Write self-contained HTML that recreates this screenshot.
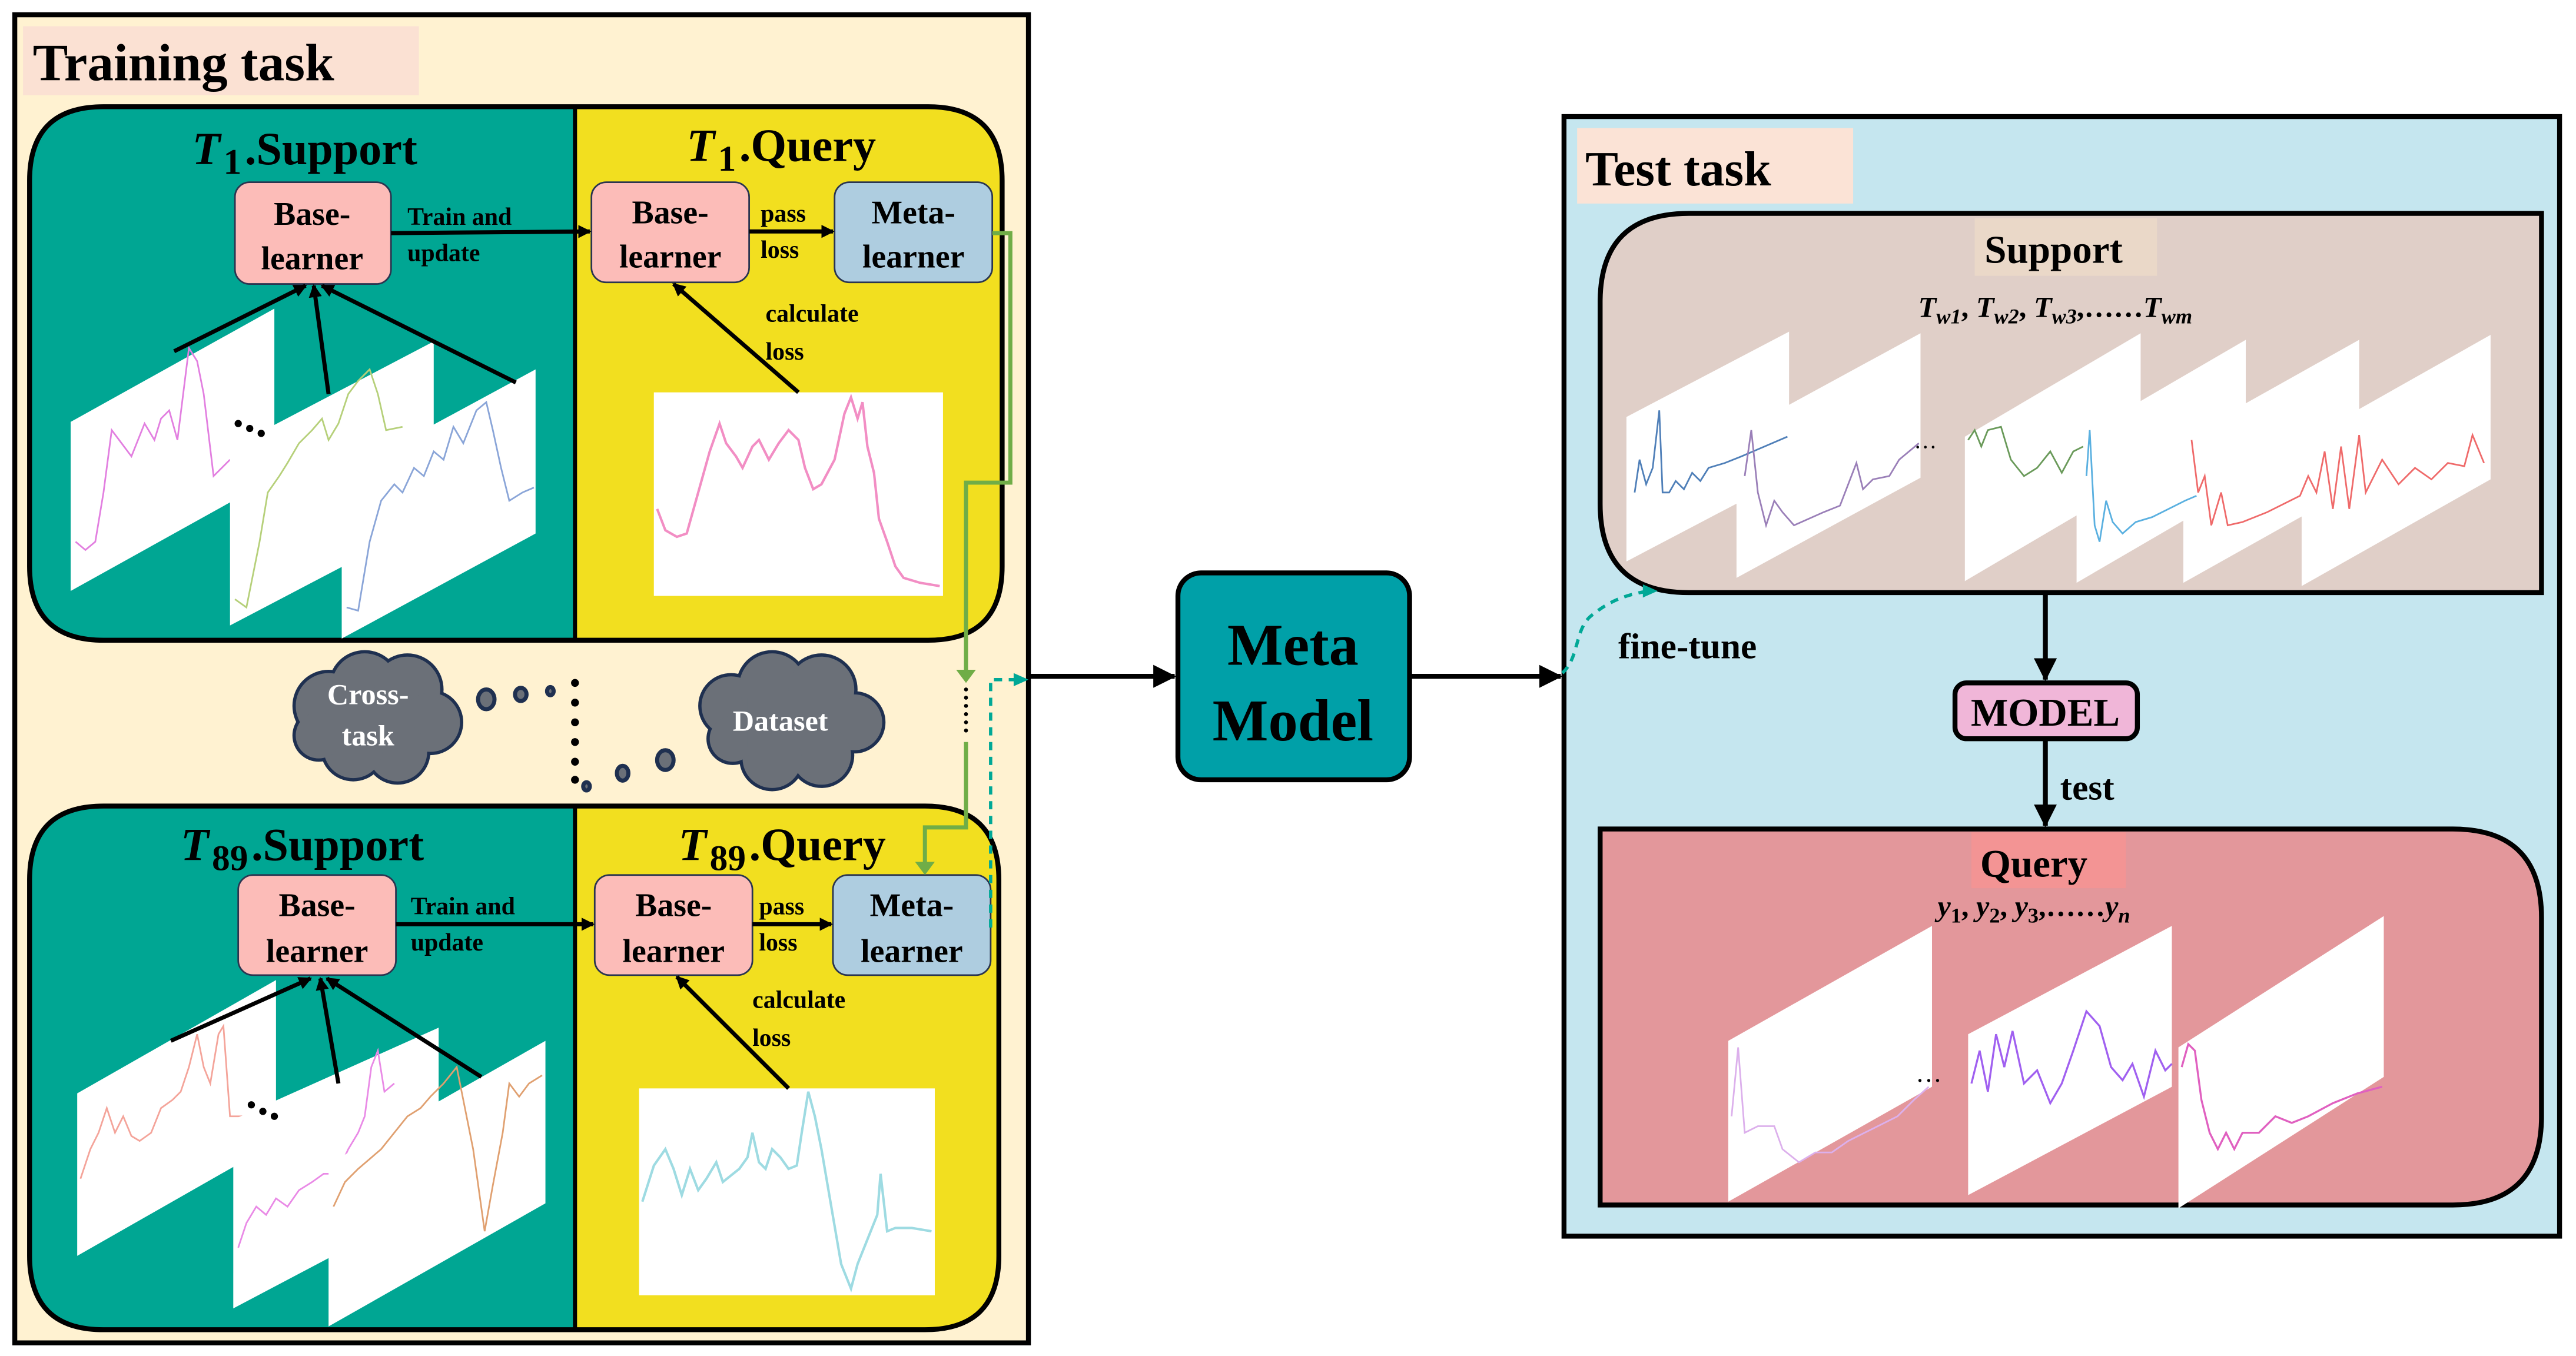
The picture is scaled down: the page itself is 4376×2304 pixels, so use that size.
<!DOCTYPE html>
<html><head><meta charset="utf-8"><style>
html,body{margin:0;padding:0;background:#fff;}
svg{display:block;}
text{font-family:"Liberation Serif",serif;font-weight:bold;fill:#000;}
</style></head><body>
<svg width="4376" height="2304" viewBox="0 0 1568 826" preserveAspectRatio="none" xmlns="http://www.w3.org/2000/svg">
<defs>
<marker id="ah" markerWidth="8" markerHeight="8" refX="7" refY="4" orient="auto" markerUnits="userSpaceOnUse"><path d="M0,0 L8,4 L0,8 z" fill="#000"/></marker>
<marker id="ahb" markerWidth="14" markerHeight="14" refX="13" refY="7" orient="auto" markerUnits="userSpaceOnUse"><path d="M0,0 L14,7 L0,14 z" fill="#000"/></marker>
<marker id="ahg" markerWidth="12" markerHeight="10" refX="6" refY="9" orient="auto-start-reverse" markerUnits="userSpaceOnUse"><path d="M0,0 L12,0 L6,10 z" fill="#70ad47"/></marker>
<marker id="aht" markerWidth="10" markerHeight="8" refX="9" refY="4" orient="auto" markerUnits="userSpaceOnUse"><path d="M0,0 L10,4 L0,8 z" fill="#00a896"/></marker>
<clipPath id="c1"><path d="M63,65 H565 Q610,65 610,110 V345 Q610,390 565,390 H63 Q18,390 18,345 V110 Q18,65 63,65 Z"/></clipPath>
<clipPath id="c2"><path d="M63,491 H563 Q608,491 608,536 V765 Q608,810 563,810 H63 Q18,810 18,765 V536 Q18,491 63,491 Z"/></clipPath>
</defs>

<!-- Training task -->
<rect x="9" y="9" width="617" height="809" fill="#fff2d1" stroke="#000" stroke-width="3"/>
<rect x="14" y="16" width="241" height="42" fill="#fbe1d3"/>
<text x="20" y="49" font-size="32">Training task</text>

<!-- T1 panel -->
<g clip-path="url(#c1)">
<rect x="18" y="65" width="600" height="330" fill="#f2df1f"/>
<rect x="18" y="65" width="332" height="330" fill="#00a693"/>
</g>
<path d="M63,65 H565 Q610,65 610,110 V345 Q610,390 565,390 H63 Q18,390 18,345 V110 Q18,65 63,65 Z" fill="none" stroke="#000" stroke-width="3"/>
<line x1="350" y1="65" x2="350" y2="390" stroke="#000" stroke-width="2.5"/>

<g clip-path="url(#c1)">
<polygon points="43,257 167,188 167,291 43,360" fill="#fff"/>
<polyline points="46,330 52,335 58,330 63,300 68,262 74,270 80,278 88,258 94,268 98,255 103,250 108,268 115,212 120,220 124,240 130,290 140,280" fill="none" stroke="#e27fe0" stroke-width="1"/>
<polygon points="140,273 264,208 264,316 140,381" fill="#fff"/>
<polyline points="143,365 150,370 158,330 163,300 170,290 175,282 182,270 190,262 196,255 200,268 206,258 212,240 218,232 225,225 230,240 235,262 245,260" fill="none" stroke="#b6d07a" stroke-width="1"/>
<polygon points="208,289 326,225 326,325 208,389" fill="#fff"/>
<polyline points="211,370 218,372 225,330 232,305 240,295 245,300 252,285 258,290 264,275 270,280 276,260 282,270 290,250 296,245 300,262 305,285 310,305 318,300 325,297" fill="none" stroke="#8aa5d8" stroke-width="1"/>
</g>
<circle cx="145" cy="258" r="2.2" fill="#000"/><circle cx="152" cy="261" r="2.2" fill="#000"/><circle cx="159" cy="264" r="2.2" fill="#000"/>
<rect x="398" y="239" width="176" height="124" fill="#fff"/>
<polyline points="400,310 405,323 412,327 418,325 425,300 432,275 438,258 442,270 448,278 452,285 458,272 462,268 468,280 474,270 480,262 486,268 490,285 495,298 500,295 508,280 514,252 518,242 522,255 525,245 528,272 532,288 535,316 540,330 545,345 550,352 560,355 572,357" fill="none" stroke="#f28ec4" stroke-width="1.5"/>

<text x="117" y="100" font-size="28" font-style="italic">T</text><text x="136" y="106" font-size="22">1</text><text x="149" y="100" font-size="28">.Support</text>
<text x="418" y="98" font-size="28" font-style="italic">T</text><text x="437" y="104" font-size="22">1</text><text x="450" y="98" font-size="28">.Query</text>

<rect x="143" y="111" width="95" height="62" rx="9" fill="#fcbcb8" stroke="#2a3550" stroke-width="1"/>
<text x="190" y="137" font-size="20" text-anchor="middle">Base-</text><text x="190" y="164" font-size="20" text-anchor="middle">learner</text>
<rect x="360" y="111" width="96" height="61" rx="9" fill="#fcbcb8" stroke="#2a3550" stroke-width="1"/>
<text x="408" y="136" font-size="20" text-anchor="middle">Base-</text><text x="408" y="163" font-size="20" text-anchor="middle">learner</text>
<rect x="508" y="111" width="96" height="61" rx="9" fill="#aecde0" stroke="#2a3550" stroke-width="1"/>
<text x="556" y="136" font-size="20" text-anchor="middle">Meta-</text><text x="556" y="163" font-size="20" text-anchor="middle">learner</text>

<line x1="238" y1="142" x2="359" y2="141" stroke="#000" stroke-width="2.5" marker-end="url(#ah)"/>
<text x="248" y="137" font-size="15">Train and</text><text x="248" y="159" font-size="15">update</text>
<line x1="456" y1="141" x2="507" y2="141" stroke="#000" stroke-width="2.5" marker-end="url(#ah)"/>
<text x="463" y="135" font-size="15">pass</text><text x="463" y="157" font-size="15">loss</text>
<line x1="106" y1="214" x2="186" y2="174" stroke="#000" stroke-width="2.5" marker-end="url(#ah)"/>
<line x1="200" y1="240" x2="191" y2="174" stroke="#000" stroke-width="2.5" marker-end="url(#ah)"/>
<line x1="314" y1="233" x2="196" y2="174" stroke="#000" stroke-width="2.5" marker-end="url(#ah)"/>
<line x1="486" y1="239" x2="410" y2="173" stroke="#000" stroke-width="2.5" marker-end="url(#ah)"/>
<text x="466" y="196" font-size="15">calculate</text><text x="466" y="219" font-size="15">loss</text>

<!-- middle: clouds and dots -->
<g fill="#6b7078" stroke="#1f3050" stroke-width="4">
<circle cx="200" cy="430" r="20"/><circle cx="222" cy="418" r="20"/><circle cx="248" cy="420" r="20"/><circle cx="262" cy="440" r="18"/><circle cx="242" cy="458" r="18"/><circle cx="215" cy="456" r="18"/><circle cx="194" cy="448" r="14"/>
<circle cx="445" cy="430" r="18"/><circle cx="470" cy="418" r="20"/><circle cx="500" cy="420" r="20"/><circle cx="520" cy="440" r="17"/><circle cx="500" cy="460" r="18"/><circle cx="470" cy="462" r="18"/><circle cx="446" cy="450" r="14"/>
</g>
<g fill="#6b7078">
<circle cx="200" cy="430" r="20"/><circle cx="222" cy="418" r="20"/><circle cx="248" cy="420" r="20"/><circle cx="262" cy="440" r="18"/><circle cx="242" cy="458" r="18"/><circle cx="215" cy="456" r="18"/><circle cx="194" cy="448" r="14"/><rect x="205" y="425" width="45" height="30"/>
<circle cx="445" cy="430" r="18"/><circle cx="470" cy="418" r="20"/><circle cx="500" cy="420" r="20"/><circle cx="520" cy="440" r="17"/><circle cx="500" cy="460" r="18"/><circle cx="470" cy="462" r="18"/><circle cx="446" cy="450" r="14"/><rect x="455" y="425" width="55" height="30"/>
</g>
<text x="224" y="429" font-size="18" fill="#fff" style="fill:#fff" text-anchor="middle">Cross-</text>
<text x="224" y="454" font-size="18" style="fill:#fff" text-anchor="middle">task</text>
<text x="475" y="445" font-size="18" style="fill:#fff" text-anchor="middle">Dataset</text>
<g fill="#6b7078" stroke="#1f3050" stroke-width="2.5">
<ellipse cx="296" cy="426" rx="5" ry="6"/><ellipse cx="317" cy="423" rx="3.5" ry="4"/><ellipse cx="335" cy="421" rx="2" ry="2.5"/>
<ellipse cx="357" cy="479" rx="2" ry="2.5"/><ellipse cx="379" cy="471" rx="3.5" ry="4.5"/><ellipse cx="405" cy="463" rx="5" ry="6"/>
</g>
<g fill="#000"><circle cx="350" cy="416" r="2.4"/><circle cx="350" cy="428" r="2.4"/><circle cx="350" cy="440" r="2.4"/><circle cx="350" cy="452" r="2.4"/><circle cx="350" cy="464" r="2.4"/><circle cx="350" cy="475" r="2.4"/></g>

<!-- T89 panel -->
<g clip-path="url(#c2)">
<rect x="18" y="491" width="600" height="330" fill="#f2df1f"/>
<rect x="18" y="491" width="332" height="330" fill="#00a693"/>
</g>
<path d="M63,491 H563 Q608,491 608,536 V765 Q608,810 563,810 H63 Q18,810 18,765 V536 Q18,491 63,491 Z" fill="none" stroke="#000" stroke-width="3"/>
<line x1="350" y1="491" x2="350" y2="810" stroke="#000" stroke-width="2.5"/>
<g clip-path="url(#c2)">
<polygon points="47,666 168,597 168,696 47,765" fill="#fff"/>
<polyline points="49,718 55,700 60,690 65,675 70,690 75,680 80,692 85,695 92,690 98,675 105,670 110,665 115,650 120,630 124,650 128,660 133,630 136,625 140,680 150,680" fill="none" stroke="#f4a49a" stroke-width="1"/>
<polygon points="142,682 267,626 267,731 142,797" fill="#fff"/>
<polyline points="145,760 150,745 156,735 162,740 168,730 175,735 182,725 190,720 197,715 205,715 212,700 218,690 222,680 226,650 230,640 234,665 240,660" fill="none" stroke="#e98ae6" stroke-width="1"/>
<polygon points="200,709 332,634 332,733 200,808" fill="#fff"/>
<polyline points="203,735 210,720 218,712 225,706 232,700 240,690 248,680 256,675 262,668 270,660 278,650 282,670 288,700 295,750 300,722 306,690 310,660 316,668 322,660 330,655" fill="none" stroke="#e0a070" stroke-width="1"/>
</g>
<circle cx="153" cy="673" r="2.2" fill="#000"/><circle cx="160" cy="677" r="2.2" fill="#000"/><circle cx="167" cy="680" r="2.2" fill="#000"/>
<rect x="389" y="663" width="180" height="126" fill="#fff"/>
<polyline points="391,732 398,710 405,700 410,712 415,728 420,712 425,725 430,718 436,708 440,720 445,716 450,712 455,705 458,690 462,708 466,712 470,700 475,705 480,712 485,710 488,690 492,665 496,680 500,700 506,735 512,770 518,785 522,770 528,755 534,740 536,715 540,750 545,748 555,748 567,750" fill="none" stroke="#9edbe2" stroke-width="1.5"/>

<text x="110" y="524" font-size="28" font-style="italic">T</text><text x="129" y="530" font-size="22">89</text><text x="153" y="524" font-size="28">.Support</text>
<text x="413" y="524" font-size="28" font-style="italic">T</text><text x="432" y="530" font-size="22">89</text><text x="456" y="524" font-size="28">.Query</text>

<rect x="145" y="533" width="96" height="61" rx="9" fill="#fcbcb8" stroke="#2a3550" stroke-width="1"/>
<text x="193" y="558" font-size="20" text-anchor="middle">Base-</text><text x="193" y="586" font-size="20" text-anchor="middle">learner</text>
<rect x="362" y="533" width="96" height="61" rx="9" fill="#fcbcb8" stroke="#2a3550" stroke-width="1"/>
<text x="410" y="558" font-size="20" text-anchor="middle">Base-</text><text x="410" y="586" font-size="20" text-anchor="middle">learner</text>
<rect x="507" y="533" width="96" height="61" rx="9" fill="#aecde0" stroke="#2a3550" stroke-width="1"/>
<text x="555" y="558" font-size="20" text-anchor="middle">Meta-</text><text x="555" y="586" font-size="20" text-anchor="middle">learner</text>

<line x1="241" y1="563" x2="361" y2="563" stroke="#000" stroke-width="2.5" marker-end="url(#ah)"/>
<text x="250" y="557" font-size="15">Train and</text><text x="250" y="579" font-size="15">update</text>
<line x1="458" y1="563" x2="506" y2="563" stroke="#000" stroke-width="2.5" marker-end="url(#ah)"/>
<text x="462" y="557" font-size="15">pass</text><text x="462" y="579" font-size="15">loss</text>
<line x1="104" y1="634" x2="189" y2="596" stroke="#000" stroke-width="2.5" marker-end="url(#ah)"/>
<line x1="206" y1="660" x2="195" y2="596" stroke="#000" stroke-width="2.5" marker-end="url(#ah)"/>
<line x1="293" y1="656" x2="199" y2="596" stroke="#000" stroke-width="2.5" marker-end="url(#ah)"/>
<line x1="480" y1="663" x2="412" y2="595" stroke="#000" stroke-width="2.5" marker-end="url(#ah)"/>
<text x="458" y="614" font-size="15">calculate</text><text x="458" y="637" font-size="15">loss</text>

<!-- green connectors -->
<polyline points="604,142 615,142 615,294 588,294 588,412" fill="none" stroke="#70ad47" stroke-width="2.5"/>
<path d="M582,408 L594,408 L588,416 z" fill="#70ad47"/>
<g fill="#000"><circle cx="588" cy="420" r="1.2"/><circle cx="588" cy="425" r="1.2"/><circle cx="588" cy="430" r="1.2"/><circle cx="588" cy="435" r="1.2"/><circle cx="588" cy="440" r="1.2"/><circle cx="588" cy="445" r="1.2"/></g>
<polyline points="588,452 588,504 563,504 563,528" fill="none" stroke="#70ad47" stroke-width="2.5"/>
<path d="M557,525 L569,525 L563,533 z" fill="#70ad47"/>
<!-- teal dashed -->
<polyline points="603,565 603,414 620,414" fill="none" stroke="#00a896" stroke-width="2" stroke-dasharray="5,4"/>
<path d="M617,410 L626,414 L617,418 z" fill="#00a896"/>
<line x1="626" y1="412" x2="715" y2="412" stroke="#000" stroke-width="3" marker-end="url(#ahb)"/>

<!-- Meta Model -->
<rect x="717" y="349" width="141" height="126" rx="14" fill="#00a0a8" stroke="#000" stroke-width="3"/>
<text x="787" y="405" font-size="36" text-anchor="middle">Meta</text>
<text x="787" y="451" font-size="36" text-anchor="middle">Model</text>
<line x1="858" y1="412" x2="950" y2="412" stroke="#000" stroke-width="3" marker-end="url(#ahb)"/>

<!-- Test task -->
<rect x="952" y="71" width="606" height="682" fill="#c5e6ef" stroke="#000" stroke-width="3"/>
<rect x="960" y="78" width="168" height="46" fill="#fbe3d6"/>
<text x="965" y="113" font-size="30">Test task</text>

<path d="M1028,130 H1547 V361 H1028 Q974,361 974,307 V184 Q974,130 1028,130 Z" fill="#e0cfc8" stroke="#000" stroke-width="3"/>
<rect x="1202" y="133" width="111" height="35" fill="#ead8c8"/>
<text x="1250" y="160" font-size="24" text-anchor="middle">Support</text>
<text x="1251" y="193" font-size="18" text-anchor="middle"><tspan font-style="italic">T</tspan><tspan font-size="13" dy="4" font-style="italic">w1</tspan><tspan dy="-4">, </tspan><tspan font-style="italic">T</tspan><tspan font-size="13" dy="4" font-style="italic">w2</tspan><tspan dy="-4">, </tspan><tspan font-style="italic">T</tspan><tspan font-size="13" dy="4" font-style="italic">w3</tspan><tspan dy="-4">,……</tspan><tspan font-style="italic">T</tspan><tspan font-size="13" dy="4" font-style="italic">wm</tspan></text>

<g fill="#fff">
<polygon points="990,254 1089,202 1089,290 990,342"/>
<polygon points="1057,264 1169,203 1169,291 1057,352"/>
<polygon points="1196,266 1303,203 1303,291 1196,354"/>
<polygon points="1264,267 1367,207 1367,295 1264,355"/>
<polygon points="1329,267 1436,207 1436,295 1329,355"/>
<polygon points="1401,269 1516,204 1516,292 1401,357"/>
</g>
<polyline points="995,300 998,280 1002,295 1006,285 1010,250 1012,300 1016,300 1020,293 1025,298 1030,288 1035,293 1040,285 1050,282 1060,278 1088,266" fill="none" stroke="#4f7fb8" stroke-width="1"/>
<polyline points="1062,290 1066,262 1070,300 1075,320 1080,305 1085,312 1092,320 1110,312 1120,308 1130,282 1134,298 1140,292 1150,290 1156,280 1162,275 1168,270" fill="none" stroke="#9a7fb8" stroke-width="1"/>
<text x="1165" y="273" font-size="14" style="font-weight:normal">…</text>
<polyline points="1198,268 1202,262 1206,272 1210,262 1218,260 1224,280 1232,290 1240,285 1248,275 1255,288 1262,275 1268,272" fill="none" stroke="#6a9a5a" stroke-width="1"/>
<polyline points="1270,290 1272,262 1275,320 1278,330 1282,305 1286,318 1292,325 1300,318 1310,315 1320,310 1330,305 1337,302" fill="none" stroke="#5ab0e0" stroke-width="1"/>
<polyline points="1334,268 1338,300 1342,290 1346,320 1352,300 1356,320 1365,318 1380,312 1400,302 1405,290 1410,300 1415,275 1420,310 1425,272 1430,310 1436,265 1440,300 1450,280 1460,295 1470,285 1480,292 1490,282 1500,284 1505,265 1512,282" fill="none" stroke="#ef6a6a" stroke-width="1"/>

<path d="M951,410 C962,400 958,382 970,374 C980,366 990,362 1004,360" fill="none" stroke="#00a896" stroke-width="2" stroke-dasharray="5,4"/>
<path d="M1000,356 L1009,360 L1000,364 z" fill="#00a896"/>
<text x="985" y="401" font-size="22">fine-tune</text>

<line x1="1245" y1="361" x2="1245" y2="414" stroke="#000" stroke-width="3" marker-end="url(#ahb)"/>
<rect x="1190" y="416" width="111" height="34" rx="7" fill="#f0b6d8" stroke="#000" stroke-width="3"/>
<text x="1245" y="442" font-size="24" text-anchor="middle">MODEL</text>
<line x1="1245" y1="450" x2="1245" y2="503" stroke="#000" stroke-width="3" marker-end="url(#ahb)"/>
<text x="1254" y="487" font-size="22">test</text>

<path d="M974,505 H1493 Q1547,505 1547,559 V680 Q1547,734 1493,734 H974 Z" fill="#e3979b" stroke="#000" stroke-width="3"/>
<rect x="1200" y="507" width="94" height="34" fill="#f39494"/>
<text x="1238" y="534" font-size="24" text-anchor="middle">Query</text>
<text x="1238" y="558" font-size="18" text-anchor="middle"><tspan font-style="italic">y</tspan><tspan font-size="13" dy="4">1</tspan><tspan dy="-4">, </tspan><tspan font-style="italic">y</tspan><tspan font-size="13" dy="4">2</tspan><tspan dy="-4">, </tspan><tspan font-style="italic">y</tspan><tspan font-size="13" dy="4">3</tspan><tspan dy="-4">,……</tspan><tspan font-style="italic">y</tspan><tspan font-size="13" dy="4" font-style="italic">n</tspan></text>
<g fill="#fff">
<polygon points="1052,634 1176,564 1176,662 1052,732"/>
<polygon points="1198,630 1322,564 1322,662 1198,728"/>
<polygon points="1326,638 1451,558 1451,656 1326,736"/>
</g>
<polyline points="1054,680 1058,638 1062,690 1070,686 1080,686 1085,700 1095,708 1105,702 1115,702 1125,695 1135,690 1145,685 1155,680 1165,670 1174,662" fill="none" stroke="#dcb0ec" stroke-width="1"/>
<text x="1166" y="659" font-size="16" style="font-weight:normal">…</text>
<polyline points="1200,660 1205,640 1210,665 1215,630 1220,650 1225,628 1232,660 1240,652 1248,672 1255,660 1262,640 1270,616 1278,625 1285,650 1292,658 1298,648 1305,668 1312,640 1318,652 1322,648" fill="none" stroke="#a060f0" stroke-width="1.2"/>
<polyline points="1328,650 1332,636 1336,640 1340,670 1345,690 1350,700 1355,690 1360,700 1365,690 1375,690 1385,680 1395,684 1405,680 1420,672 1435,666 1450,662" fill="none" stroke="#e060c0" stroke-width="1.2"/>
</svg>
</body></html>
